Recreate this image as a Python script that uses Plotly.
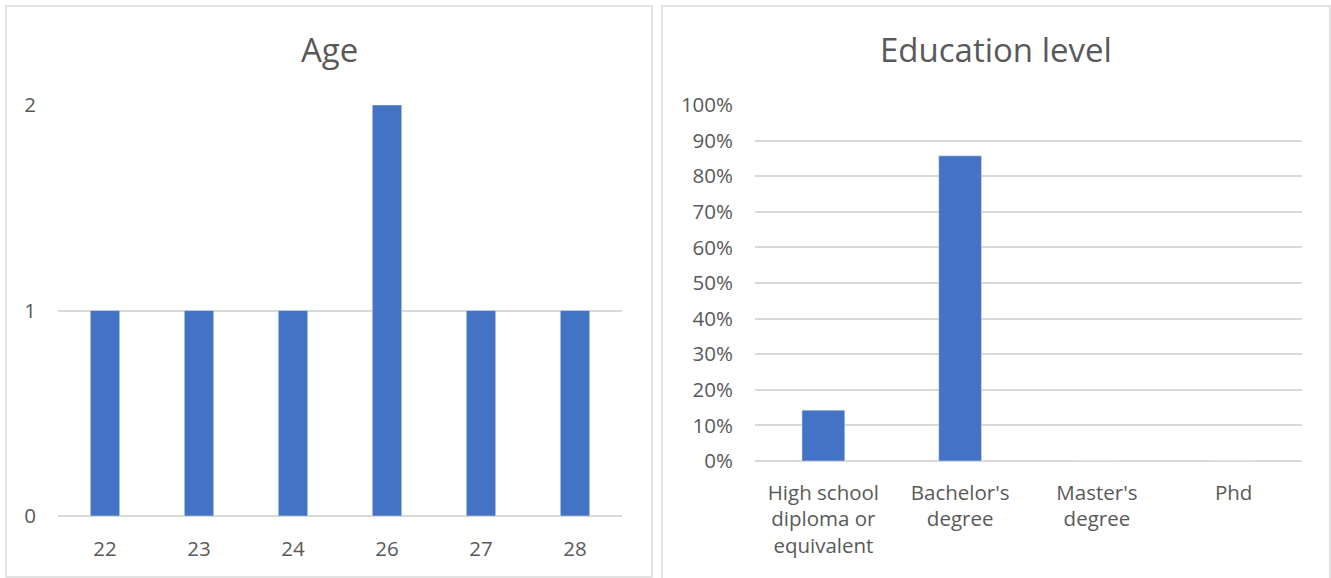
import plotly.graph_objects as go

# Age distribution (respondent counts)
ages = ["22", "23", "24", "26", "27", "28"]
age_counts = [1, 1, 1, 2, 1, 1]

# Education level (share of respondents)
edu_levels = ["High school<br>diploma or<br>equivalent", "Bachelor's<br>degree", "Master's<br>degree", "Phd"]
edu_shares = [1 / 7, 6 / 7, 0, 0]

W, H = 1331, 578
BAR = "#4472c4"
GRID = "#d9d9d9"
TEXT = "#595959"
FONT = "Open Sans"


def px(x):
    return x / W


def py(y):
    return 1 - y / H


fig = go.Figure()
fig.add_trace(go.Bar(x=ages, y=age_counts, marker_color=BAR, xaxis="x", yaxis="y",
                     hoverinfo="x+y"))
fig.add_trace(go.Bar(x=edu_levels, y=edu_shares, marker_color=BAR, xaxis="x2", yaxis="y2",
                     hoverinfo="x+y"))

axis_common = dict(showline=False, ticks="", automargin=False,
                   tickfont=dict(family=FONT, size=20.5, color=TEXT), fixedrange=True)

fig.update_layout(
    width=W, height=H,
    margin=dict(l=0, r=0, t=0, b=0, pad=0, autoexpand=False),
    paper_bgcolor="white", plot_bgcolor="white",
    showlegend=False,
    bargap=0.687,
    xaxis=dict(domain=[px(58), px(622)], anchor="y", type="category",
               showgrid=False, zeroline=False, ticklabelstandoff=18, **axis_common),
    yaxis=dict(domain=[py(516), py(105)], anchor="x", range=[0, 2], tickvals=[0, 1, 2],
               showgrid=True, gridcolor=GRID, gridwidth=1.5, zeroline=True,
               zerolinecolor=GRID, zerolinewidth=1.5, ticklabelstandoff=21, **axis_common),
    xaxis2=dict(domain=[px(755), px(1302)], anchor="y2", type="category",
                showgrid=False, zeroline=False, ticklabelstandoff=17, **axis_common),
    yaxis2=dict(domain=[py(461), py(105)], anchor="x2", range=[0, 1],
                tickvals=[i / 10 for i in range(11)], tickformat=".0%",
                showgrid=True, gridcolor=GRID, gridwidth=1.5, zeroline=True,
                zerolinecolor=GRID, zerolinewidth=1.5, ticklabelstandoff=21, **axis_common),
    shapes=[
        dict(type="rect", xref="paper", yref="paper", x0=px(6), x1=px(652), y0=py(577), y1=py(6),
             line=dict(color=GRID, width=1.5), layer="below"),
        dict(type="rect", xref="paper", yref="paper", x0=px(662), x1=px(1330), y0=py(590), y1=py(6),
             line=dict(color=GRID, width=1.5), layer="below"),
    ],
    annotations=[
        dict(text="Age", xref="paper", yref="paper", x=px(329), y=py(50), showarrow=False,
             xanchor="center", yanchor="middle", font=dict(family=FONT, size=33, color=TEXT)),
        dict(text="Education level", xref="paper", yref="paper", x=px(996), y=py(50),
             showarrow=False, xanchor="center", yanchor="middle",
             font=dict(family=FONT, size=33, color=TEXT)),
    ],
)

fig.write_html("out.html")
